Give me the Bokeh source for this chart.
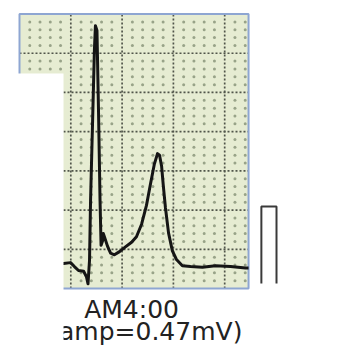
import numpy as np
from bokeh.plotting import figure
from bokeh.models import Range1d
from bokeh.core.properties import value
from bokeh.embed import file_html
from bokeh.resources import INLINE

# ECG trace (time in s, amplitude in mV above the bottom of the grid)
t_s = [0.121, 0.172, 0.199, 0.214, 0.230, 0.250, 0.261, 0.267, 0.273, 0.277,
       0.285, 0.292, 0.296, 0.302, 0.308, 0.314, 0.318, 0.324, 0.327, 0.331,
       0.343, 0.355, 0.370, 0.390, 0.413, 0.437, 0.456, 0.476, 0.495, 0.511,
       0.526, 0.538, 0.546, 0.554, 0.561, 0.569, 0.581, 0.596, 0.612, 0.635,
       0.667, 0.713, 0.764, 0.823, 0.881, 0.893]
amp_mv = [0.33, 0.32, 0.33, 0.28, 0.23, 0.22, 0.15, 0.06, 0.36, 1.12,
          2.14, 3.04, 3.35, 3.29, 2.27, 1.12, 0.55, 0.61, 0.70, 0.66,
          0.54, 0.45, 0.43, 0.47, 0.53, 0.59, 0.66, 0.82, 1.06, 1.34,
          1.59, 1.72, 1.70, 1.56, 1.30, 1.03, 0.71, 0.48, 0.37, 0.29,
          0.28, 0.27, 0.29, 0.28, 0.26, 0.26]

# grid geometry (ECG paper)
grid_t_end = 0.893
grid_mv_end = 3.5
major_t = 0.2
major_mv = 0.5
minor_div = 5

# calibration pulse
cal_t = [0.943, 0.943, 1.002, 1.002]
cal_mv = [0.064, 1.046, 1.046, 0.064]

title_line1 = "AM4:00"
title_line2 = "(amp=0.47mV)"

p = figure(width=338, height=353, output_backend="svg", toolbar_location=None,
           x_range=Range1d(-0.0741, 1.2437), y_range=Range1d(-0.829, 3.673),
           x_axis_location=None, y_axis_location=None, min_border=0)
p.grid.visible = False
p.outline_line_color = None
p.background_fill_color = "white"
p.border_fill_color = "white"

# paper background
p.quad(left=[0], right=[grid_t_end], bottom=[0], top=[grid_mv_end],
       fill_color="#e6ecd2", line_color=None)

# minor dots
mt = major_t / minor_div
mm = major_mv / minor_div
xs, ys = [], []
i = 1
while i * mt < grid_t_end - 1e-6:
    j = 1
    while j * mm < grid_mv_end - 1e-6:
        if i % minor_div != 0 and j % minor_div != 0:
            xs.append(i * mt)
            ys.append(j * mm)
        j += 1
    i += 1
p.scatter(xs, ys, size=3, color="#98a388", line_color=None)

# major dotted lines
vx = [k * major_t for k in range(1, 5)]
p.segment(x0=vx, y0=[0] * len(vx), x1=vx, y1=[grid_mv_end] * len(vx),
          line_color="#50554a", line_width=1.7, line_dash="2 2")
hy = [k * major_mv for k in range(1, 7)]
p.segment(x0=[0] * len(hy), y0=hy, x1=[grid_t_end] * len(hy), y1=hy,
          line_color="#50554a", line_width=1.7, line_dash="2 2")

# border
p.quad(left=[0], right=[grid_t_end], bottom=[0], top=[grid_mv_end],
       fill_color=None, line_color="#8ea6d2", line_width=2)

# ECG trace
p.line(t_s, amp_mv, line_color="#151515", line_width=3, line_join="round")

# calibration pulse
p.line(cal_t, cal_mv, line_color="#3a3a3a", line_width=2)

# labels
p.text(x=[0.437], y=[-0.267], text=[title_line1], text_align="center",
       text_baseline="alphabetic", text_font=value("DejaVu Sans"),
       text_font_size="25px", text_color="#222222")
p.text(x=[0.869], y=[-0.549], text=[title_line2], text_align="right",
       text_baseline="alphabetic", text_font=value("DejaVu Sans"),
       text_font_size="25px", text_color="#222222")

# white area covering the left part (cropped region)
p.quad(left=[-0.1], right=[0.1716], bottom=[-1.0], top=[2.742],
       fill_color="white", line_color=None)

open("out.html", "w").write(file_html(p, INLINE))
